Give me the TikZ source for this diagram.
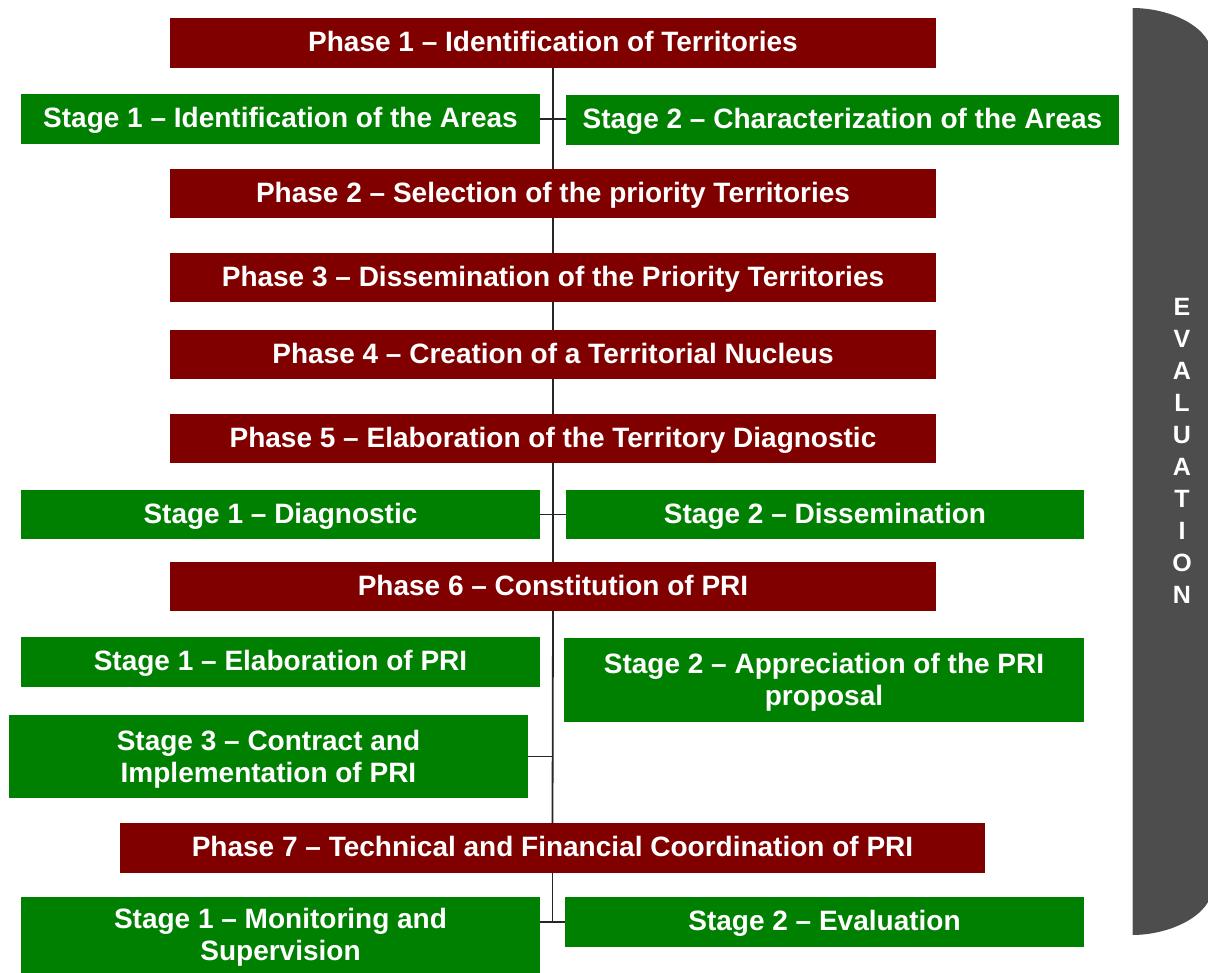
\documentclass[tikz,border=0pt]{standalone}
\usepackage{fontspec}
\setmainfont{Liberation Sans}
\usepackage{xcolor}
\definecolor{phasered}{HTML}{800000}
\definecolor{stagegreen}{HTML}{008000}
\definecolor{evalgray}{HTML}{4D4D4D}

\begin{document}
\begin{tikzpicture}[x=1pt, y=-1pt,
    font=\bfseries\fontsize{28}{32}\selectfont, line join=round,
    phase/.style={fill=phasered, text=white, inner sep=0pt, align=center,
        text height=22pt, text depth=4.6pt},
    stage/.style={fill=stagegreen, text=white, inner sep=0pt, align=center,
        text height=22pt, text depth=4.6pt},
    twoline/.style={text height={}, text depth=1pt},
    spine/.style={line width=1.8pt, black!85}]

    % Page size of the original slide
    \useasboundingbox (0,0) rectangle (1208,973);

    % Evaluation bar on the right (cut by the page edge)
    \fill[evalgray] (1132,8)
        .. controls (1172,8) and (1212,28) .. (1212,56)
        -- (1212,888)
        .. controls (1212,914) and (1172,935) .. (1132,935) -- cycle;
    \draw[gray!45, line width=0.8pt] (1132,8) -- (1132,935);
    \node[text=white, align=center, font=\bfseries\fontsize{25}{32}\selectfont]
        (eval) at (1182,451) {E\\V\\A\\L\\U\\A\\T\\I\\O\\N};

    % Phases (red)
    \node[phase, minimum width=766, minimum height=50] (p1) at (553,43)
        {Phase 1 -- Identification of Territories};
    \node[phase, minimum width=766, minimum height=49] (p2) at (553,193.5)
        {Phase 2 -- Selection of the priority Territories};
    \node[phase, minimum width=766, minimum height=49] (p3) at (553,277.5)
        {Phase 3 -- Dissemination of the Priority Territories};
    \node[phase, minimum width=766, minimum height=49] (p4) at (553,354.5)
        {Phase 4 -- Creation of a Territorial Nucleus};
    \node[phase, minimum width=766, minimum height=49] (p5) at (553,438.5)
        {Phase 5 -- Elaboration of the Territory Diagnostic};
    \node[phase, minimum width=766, minimum height=49] (p6) at (553,586.5)
        {Phase 6 -- Constitution of PRI};
    \node[phase, minimum width=865, minimum height=50] (p7) at (552.5,848)
        {Phase 7 -- Technical and Financial Coordination of PRI};

    % Stages (green)
    \node[stage, minimum width=519, minimum height=50] (s11) at (280.5,119)
        {Stage 1 -- Identification of the Areas};
    \node[stage, minimum width=553, minimum height=50] (s12) at (842.5,120)
        {Stage 2 -- Characterization of the Areas};
    \node[stage, minimum width=519, minimum height=49] (s51) at (280.5,514.5)
        {Stage 1 -- Diagnostic};
    \node[stage, minimum width=518, minimum height=49] (s52) at (825,514.5)
        {Stage 2 -- Dissemination};
    \node[stage, minimum width=519, minimum height=50] (s61) at (280.5,662)
        {Stage 1 -- Elaboration of PRI};
    \node[stage, twoline, minimum width=520, minimum height=84] (s62) at (824,680)
        {Stage 2 -- Appreciation of the PRI\\proposal};
    \node[stage, twoline, minimum width=519, minimum height=83] (s63) at (268.5,756.5)
        {Stage 3 -- Contract and\\Implementation of PRI};
    \node[stage, twoline, minimum width=519, minimum height=76] (s71) at (280.5,935)
        {Stage 1 -- Monitoring and\\Supervision};
    \node[stage, minimum width=519, minimum height=50] (s72) at (824.5,922)
        {Stage 2 -- Evaluation};

    % Spine between the phases
    \draw[spine] (p1.south) -- (p2.north);
    \draw[spine] (p2.south) -- (p3.north);
    \draw[spine] (p3.south) -- (p4.north);
    \draw[spine] (p4.south) -- (p5.north);
    \draw[spine] (p5.south) -- (p6.north);
    \draw[spine] (p6.south) -- (p7.north);
    \coordinate (spinebot) at (p7.south |- s72.west);
    \draw[spine] (p7.south) -- (spinebot);

    % Ticks to the stages
    \draw[spine] (s11.east) -- (s11.east -| s12.west);
    \draw[spine] (s51.east) -- (s52.west);
    \draw[spine] (s63.east) -- (s63.east -| p6.south);
    \draw[spine] (s71.east |- s72.west) -- (s72.west);

\end{tikzpicture}
\end{document}
